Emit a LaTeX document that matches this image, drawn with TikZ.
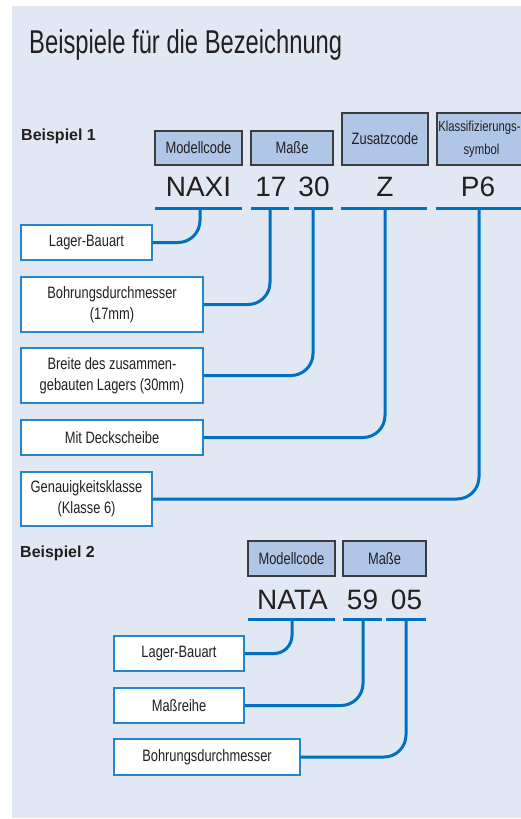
\documentclass[tikz,border=0pt]{standalone}
\usepackage{fontspec}
\setmainfont{Liberation Sans}
\newfontfamily\condfont[FakeStretch=0.78]{Liberation Sans}
\newfontfamily\titlefont[FakeStretch=0.72]{Liberation Sans}
\definecolor{bgblue}{HTML}{E1E8F4}
\definecolor{hdrfill}{HTML}{B0C6E6}
\definecolor{hdrdraw}{HTML}{3C3C3C}
\definecolor{linkblue}{HTML}{0070C0}
\definecolor{boxblue}{HTML}{2585CF}
\definecolor{ink}{HTML}{231F20}
\begin{document}
\begin{tikzpicture}[x=1pt,y=-1pt,
  hdr/.style={draw=hdrdraw,line width=1.1pt,fill=hdrfill,inner sep=0pt,align=center,
    text=ink,font=\condfont\fontsize{16.5}{23}\selectfont},
  lbl/.style={draw=boxblue,line width=1.4pt,fill=white,inner sep=0pt,align=center,
    text=ink,font=\condfont\fontsize{16.5}{21}\selectfont},
  code/.style={inner sep=0pt,anchor=base,text=ink,font=\fontsize{28}{30}\selectfont},
  conn/.style={draw=linkblue,line width=3pt,rounded corners=22pt},
  uline/.style={draw=linkblue,line width=3pt},
  head/.style={inner sep=0pt,anchor=base west,text=ink,font=\bfseries\fontsize{16}{18}\selectfont}]
\useasboundingbox (0,0) rectangle (521,819);
\clip (0,0) rectangle (521,819);
\fill[bgblue] (12,6) rectangle (530,818);
\node[inner sep=0pt,anchor=base west,text=ink,font=\titlefont\fontsize{33}{36}\selectfont] (title) at (29,53) {Beispiele für die Bezeichnung};

% ---------- Beispiel 1 ----------
\node[head] (b1) at (21,140) {Beispiel 1};
\node[hdr,minimum width=87pt,minimum height=34pt] (h1) at (198.5,148) {Modellcode};
\node[hdr,minimum width=82pt,minimum height=34pt] (h2) at (292,148) {Maße};
\node[hdr,minimum width=86pt,minimum height=52pt] (h3) at (385,139) {Zusatzcode};
\node[hdr,minimum width=89pt,minimum height=52pt,font=\condfont\fontsize{14.5}{23}\selectfont] (h4) at (481.5,139) {\hspace*{-4pt}Klassifizierungs-\\symbol};

\node[code] (c1) at (198.5,196) {NAXI};
\node[code] (c2) at (271,196) {17};
\node[code] (c3) at (314,196) {30};
\node[code] (c4) at (385,196) {Z};
\node[code] (c5) at (478,196) {P6};

\coordinate (u1a) at (155,208); \coordinate (u1b) at (242,208);
\coordinate (u2a) at (251,208); \coordinate (u2b) at (289,208);
\coordinate (u3a) at (294,208); \coordinate (u3b) at (333,208);
\coordinate (u4a) at (341,208); \coordinate (u4b) at (427,208);
\coordinate (u5a) at (436,208); \coordinate (u5b) at (530,208);
\draw[uline] (u1a) -- (u1b);
\draw[uline] (u2a) -- (u2b);
\draw[uline] (u3a) -- (u3b);
\draw[uline] (u4a) -- (u4b);
\draw[uline] (u5a) -- (u5b);
\coordinate (s1) at (200,208);
\coordinate (s2) at (270,208);
\coordinate (s3) at (313,208);
\coordinate (s4) at (385,208);
\coordinate (s5) at (479,208);

\node[lbl,minimum width=131pt,minimum height=35pt] (l1) at (86.5,242.5) {Lager-Bauart};
\node[lbl,minimum width=182pt,minimum height=55pt] (l2) at (112,304.5) {Bohrungsdurchmesser\\(17mm)};
\node[lbl,minimum width=182pt,minimum height=55pt] (l3) at (112,375.5) {Breite des zusammen-\\gebauten Lagers (30mm)};
\node[lbl,minimum width=182pt,minimum height=35pt] (l4) at (112,437.5) {Mit Deckscheibe};
\node[lbl,minimum width=131pt,minimum height=54pt] (l5) at (86.5,499) {Genauigkeitsklasse\\(Klasse 6)};

\draw[conn] (s1) |- (l1.east);
\draw[conn] (s2) |- (l2.east);
\draw[conn] (s3) |- (l3.east);
\draw[conn] (s4) |- (l4.east);
\draw[conn] (s5) |- (l5.east);

% ---------- Beispiel 2 ----------
\node[head] (b2) at (20,557) {Beispiel 2};
\node[hdr,minimum width=87pt,minimum height=35pt] (k1) at (291.5,558.5) {Modellcode};
\node[hdr,minimum width=83pt,minimum height=35pt] (k2) at (384.5,558.5) {Maße};

\node[code] (d1) at (292.5,609) {NATA};
\node[code] (d2) at (362.5,609) {59};
\node[code] (d3) at (406.5,609) {05};

\coordinate (v1a) at (248,619); \coordinate (v1b) at (335,619);
\coordinate (v2a) at (343,619); \coordinate (v2b) at (382,619);
\coordinate (v3a) at (386,619); \coordinate (v3b) at (426,619);
\draw[uline] (v1a) -- (v1b);
\draw[uline] (v2a) -- (v2b);
\draw[uline] (v3a) -- (v3b);
\coordinate (t1) at (292,619);
\coordinate (t2) at (363,619);
\coordinate (t3) at (406,619);

\node[lbl,minimum width=130pt,minimum height=35pt] (m1) at (179,653.5) {Lager-Bauart};
\node[lbl,minimum width=130pt,minimum height=35pt] (m2) at (179,705.5) {Maßreihe};
\node[lbl,minimum width=186pt,minimum height=36pt] (m3) at (207,757) {Bohrungsdurchmesser};

\draw[conn,rounded corners=18pt] (t1) |- (m1.east);
\draw[conn] (t2) |- (m2.east);
\draw[conn] (t3) |- (m3.east);
\end{tikzpicture}
\end{document}
